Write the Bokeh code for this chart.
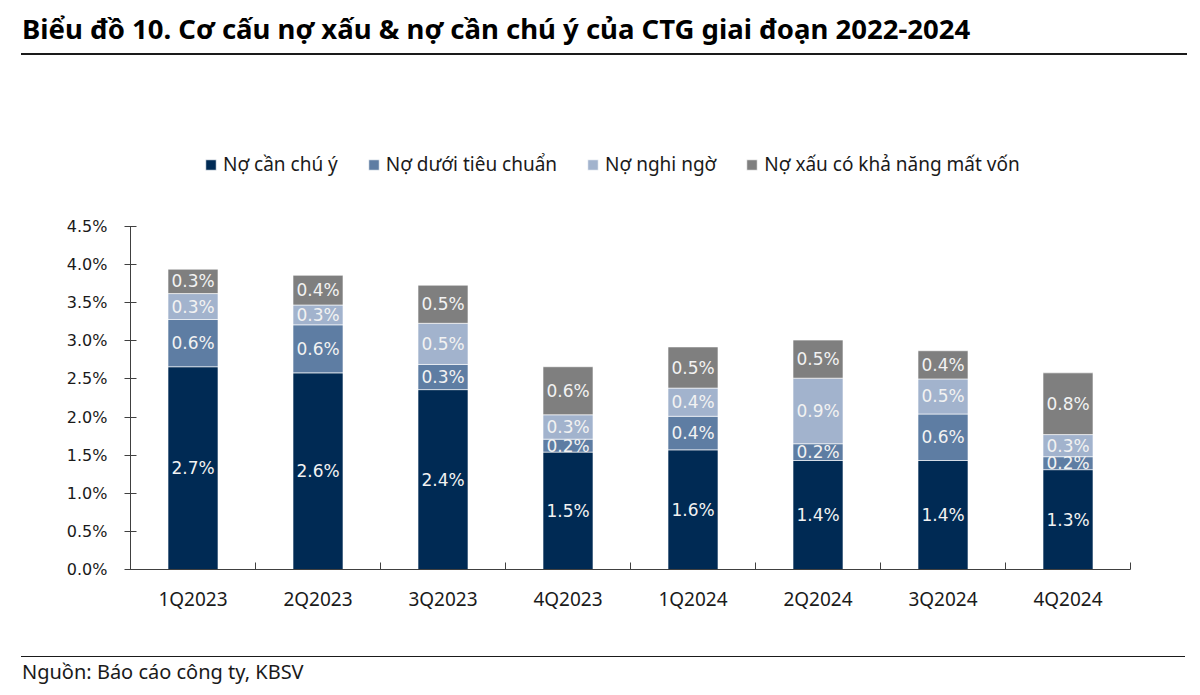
from bokeh.plotting import figure
from bokeh.models import (ColumnDataSource, Range1d, FixedTicker, PrintfTickFormatter,
                          Legend, LegendItem, Div)
from bokeh.layouts import column
from bokeh.core.properties import value
from bokeh.embed import file_html
from bokeh.resources import INLINE

# ---------------- data ----------------
title_text = "Biểu đồ 10. Cơ cấu nợ xấu & nợ cần chú ý của CTG giai đoạn 2022-2024"
source_text = "Nguồn: Báo cáo công ty, KBSV"
quarters = ["1Q2023", "2Q2023", "3Q2023", "4Q2023", "1Q2024", "2Q2024", "3Q2024", "4Q2024"]
series_names = ["Nợ cần chú ý", "Nợ dưới tiêu chuẩn", "Nợ nghi ngờ", "Nợ xấu có khả năng mất vốn"]
no_can_chu_y = [2.66, 2.58, 2.36, 1.54, 1.57, 1.43, 1.43, 1.31]
no_duoi_tieu_chuan = [0.62, 0.63, 0.33, 0.17, 0.44, 0.22, 0.61, 0.17]
no_nghi_ngo = [0.34, 0.26, 0.54, 0.32, 0.37, 0.86, 0.46, 0.29]
no_mat_von = [0.32, 0.39, 0.50, 0.63, 0.54, 0.50, 0.37, 0.81]
y_ticks = [0.0, 0.5, 1.0, 1.5, 2.0, 2.5, 3.0, 3.5, 4.0, 4.5]
colors = ["#002A54", "#5E7DA3", "#A2B3CD", "#7F7F7F"]

series = [no_can_chu_y, no_duoi_tieu_chuan, no_nghi_ngo, no_mat_von]
keys = ["s0", "s1", "s2", "s3"]
n = len(quarters)
centers = [i + 0.5 for i in range(n)]
boundaries = list(range(n + 1))

data = {"x": centers, "quarter": quarters}
for k, s in zip(keys, series):
    data[k] = s
cum = [0.0] * n
for i, (k, s) in enumerate(zip(keys, series)):
    data["mid" + str(i)] = [c + v / 2 for c, v in zip(cum, s)]
    data["lbl" + str(i)] = ["%.1f%%" % v for v in s]
    cum = [c + v for c, v in zip(cum, s)]
source = ColumnDataSource(data)

TEXT_DARK = "#1a1a1a"
AXIS_COL = "#404040"

# layout: the frame is extended upward to hold the legend; the y axis itself stops at 4.5%
AXIS_PX = 343          # pixel height of the 0..4.5% axis
FRAME_PX = 439         # frame height including legend area
y_max_axis = y_ticks[-1]
y_end = y_max_axis * FRAME_PX / AXIS_PX

p = figure(width=1184, height=584, x_range=Range1d(0, n), y_range=Range1d(0, y_end),
           output_backend="svg", toolbar_location=None,
           min_border_left=130, min_border_right=54, min_border_top=68, min_border_bottom=77)
p.outline_line_color = None
p.grid.visible = False
p.background_fill_color = "white"

renderers = p.vbar_stack(keys, x="x", width=0.4, color=colors, source=source,
                         line_color="white", line_width=1, line_alpha=0.6)

for i in range(4):
    p.text(x="x", y="mid" + str(i), text="lbl" + str(i), source=source,
           text_align="center", text_baseline="middle", text_color="#F2F2F2",
           text_font=value("DejaVu Sans"), text_font_size="17px")

# y axis
ya = p.yaxis[0]
ya.bounds = (0, y_max_axis)
ya.ticker = FixedTicker(ticks=y_ticks)
ya.formatter = PrintfTickFormatter(format="%.1f%%")
ya.major_tick_in = 6
ya.major_tick_out = 6
ya.minor_tick_line_color = None
ya.axis_line_color = AXIS_COL
ya.major_tick_line_color = AXIS_COL
ya.major_label_standoff = 17
ya.major_label_text_font = "DejaVu Sans"
ya.major_label_text_font_size = "16px"
ya.major_label_text_color = TEXT_DARK

# x axis: labels at category centres, tick marks at category boundaries
xa = p.xaxis[0]
xa.ticker = FixedTicker(ticks=centers, minor_ticks=boundaries)
xa.major_label_overrides = {c: q for c, q in zip(centers, quarters)}
xa.major_tick_line_color = None
xa.major_tick_in = 0
xa.major_tick_out = 0
xa.minor_tick_in = 7
xa.minor_tick_out = 0
xa.minor_tick_line_color = AXIS_COL
xa.axis_line_color = AXIS_COL
xa.major_label_standoff = 16
xa.major_label_text_font = "Noto Sans"
xa.major_label_text_font_size = "19px"
xa.major_label_text_color = TEXT_DARK

legend = Legend(items=[LegendItem(label=nm, renderers=[r]) for nm, r in zip(series_names, renderers)],
                orientation="horizontal", location=(74, 392), glyph_width=13, glyph_height=13,
                label_standoff=6, spacing=29, padding=0, margin=0, border_line_color=None,
                background_fill_alpha=0, label_text_font="Noto Sans", label_text_font_size="19px",
                label_text_color=TEXT_DARK, label_height=20)
p.add_layout(legend, "center")

title_div = Div(width=1184, height=52, text=(
    '<div style="position:relative;width:1166px;height:44px;margin-left:16px;margin-top:6px;'
    'border-bottom:2px solid #1a1a1a;">'
    '<div style="position:absolute;left:1px;top:1px;font-family:\'Noto Sans\';font-weight:bold;'
    'font-size:27.5px;line-height:34px;color:#000;white-space:nowrap;">' + title_text + '</div></div>'))

footer_div = Div(width=1184, height=40, text=(
    '<div style="position:relative;width:1164px;height:32px;margin-left:16px;margin-top:5px;'
    'border-top:1.5px solid #1a1a1a;">'
    '<div style="position:absolute;left:1px;top:1px;font-family:\'Noto Sans\';'
    'font-size:20px;line-height:28px;color:#1a1a1a;white-space:nowrap;">' + source_text + '</div></div>'))

layout = column(title_div, p, footer_div, spacing=0)
open("out.html", "w").write(file_html(layout, INLINE))
